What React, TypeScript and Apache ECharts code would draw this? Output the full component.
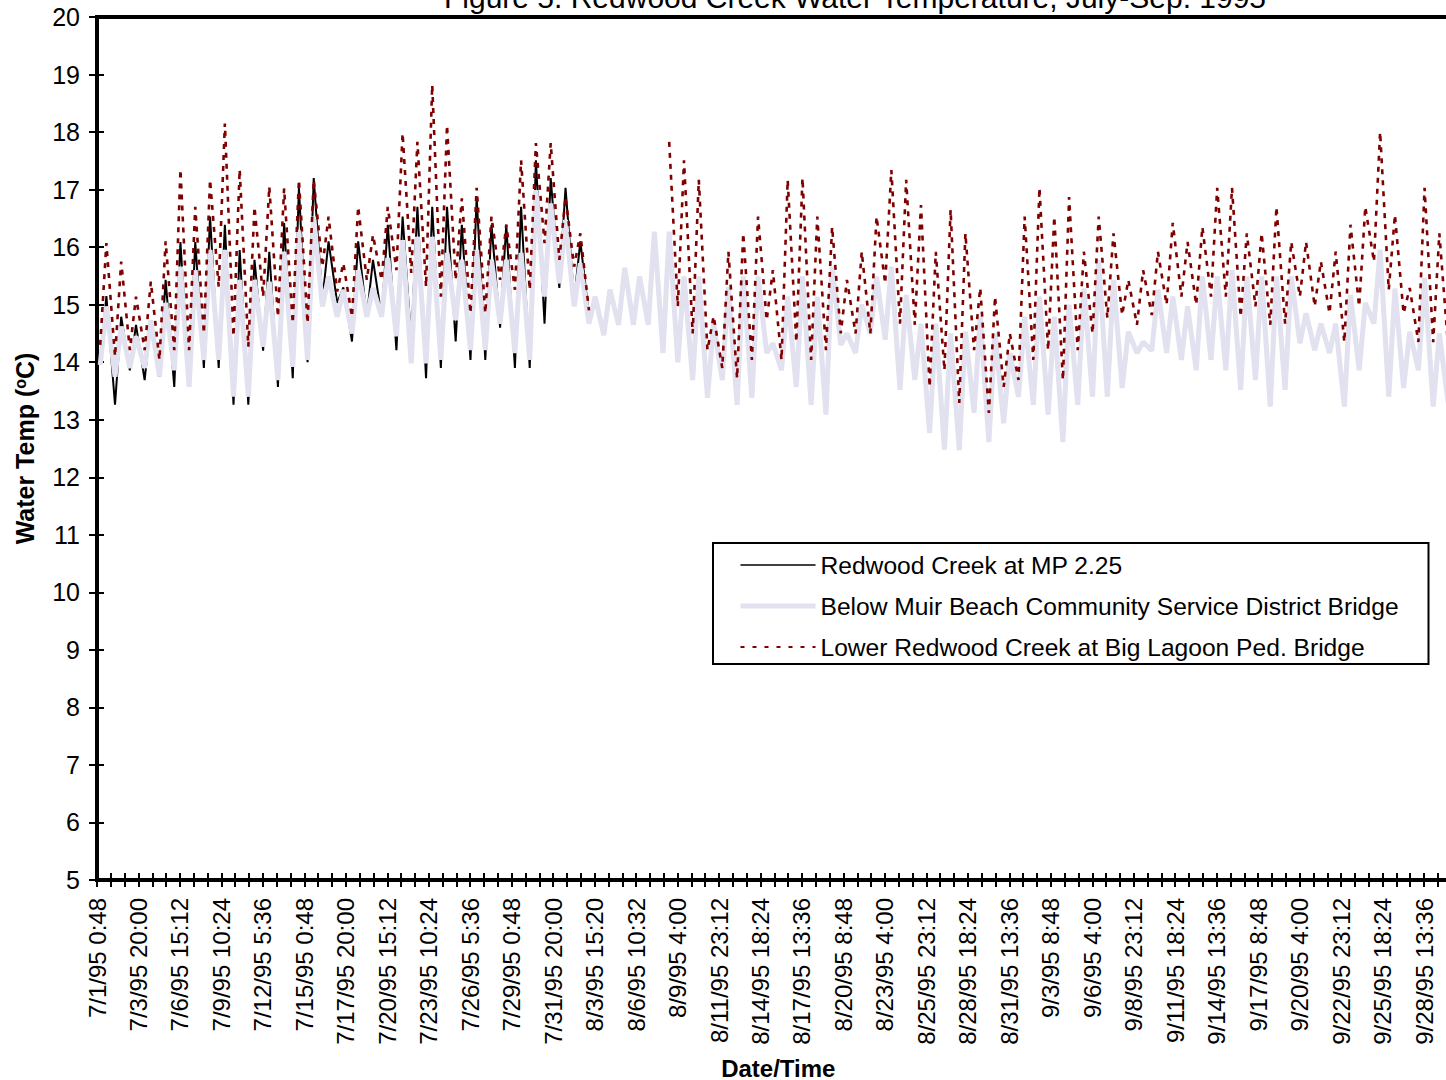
import React, { useEffect, useRef } from 'react';
import * as echarts from 'echarts';

const TITLE = 'Figure 5. Redwood Creek Water Temperature, July-Sep. 1995';
const SERIES_NAMES = [
  'Redwood Creek at MP 2.25',
  'Below Muir Beach Community Service District Bridge',
  'Lower Redwood Creek at Big Lagoon Ped. Bridge',
];

// Category labels, one every 84 readings (readings every 48 minutes)
const tickLabels = [
  '7/1/95 0:48', '7/3/95 20:00', '7/6/95 15:12', '7/9/95 10:24', '7/12/95 5:36',
  '7/15/95 0:48', '7/17/95 20:00', '7/20/95 15:12', '7/23/95 10:24', '7/26/95 5:36',
  '7/29/95 0:48', '7/31/95 20:00', '8/3/95 15:20', '8/6/95 10:32', '8/9/95 4:00',
  '8/11/95 23:12', '8/14/95 18:24', '8/17/95 13:36', '8/20/95 8:48', '8/23/95 4:00',
  '8/25/95 23:12', '8/28/95 18:24', '8/31/95 13:36', '9/3/95 8:48', '9/6/95 4:00',
  '9/8/95 23:12', '9/11/95 18:24', '9/14/95 13:36', '9/17/95 8:48', '9/20/95 4:00',
  '9/22/95 23:12', '9/25/95 18:24', '9/28/95 13:36',
];

// Daily readings (day 0 = 7/1/95): early-morning low and afternoon high, deg C
const mpLows = [14.0, 13.26, 13.86, 13.69, 13.75, 13.57, 13.6, 13.9, 13.9, 13.26,
  13.26, 14.2, 13.57, 13.72, 14.0, 15.08, 15.03, 14.36, 14.79, 14.79,
  14.21, 14.36, 13.72, 13.9, 14.36, 14.04, 14.04, 14.6, 13.9, 13.9,
  14.67, 15.29, 15.08, 14.8];
const mpHighs = [15.15, 14.79, 14.65, 14.73, 15.43, 16.09, 16.09, 16.53, 16.39, 15.95,
  15.78, 15.92, 16.42, 17.03, 17.2, 16.1, 15.3, 16.1, 15.78, 16.39,
  16.53, 16.7, 16.7, 16.7, 16.39, 16.87, 16.39, 16.39, 16.7, 17.51,
  17.2, 17.03, 16.1, null];

const muirLows = [13.95, 13.75, 13.9, 13.9, 13.75, 13.86, 13.57, 14.04, 14.04, 13.4,
  13.4, 14.27, 13.69, 13.92, 14.04, 14.97, 14.79, 14.5, 14.79, 14.79,
  14.45, 13.98, 13.98, 14.04, 14.73, 14.21, 14.21, 14.67, 14.16, 14.04,
  15.14, 15.37, 14.97, 14.67, 14.47, 14.65, 14.65, 14.65, 14.16, 14.0,
  13.69, 13.38, 13.69, 13.26, 13.38, 14.16, 13.86, 13.57, 13.26, 13.09,
  14.3, 14.16, 14.5, 14.39, 13.52, 13.69, 12.77, 12.48, 12.47, 13.12,
  12.61, 12.94, 13.4, 13.26, 13.09, 12.61, 13.26, 13.4, 13.4, 13.55,
  14.16, 14.2, 14.16, 14.04, 13.86, 14.04, 13.86, 13.52, 13.69, 13.23,
  13.52, 14.33, 14.21, 14.16, 13.23, 13.86, 14.67, 13.4, 13.55, 13.86,
  13.23, 13.3];
const muirHighs = [14.97, 14.62, 14.45, 14.73, 15.03, 15.66, 15.6, 15.95, 15.95, 15.43,
  15.43, 15.4, 15.92, 16.3, 16.53, 15.49, 15.26, 15.6, 15.29, 15.81,
  16.12, 16.18, 16.18, 15.9, 15.78, 15.95, 15.78, 15.78, 15.9, 16.99,
  16.76, 16.47, 15.72, 15.14, 15.26, 15.64, 15.49, 16.27, 16.27, 15.49,
  15.49, 14.67, 15.31, 15.49, 15.49, 14.33, 15.14, 15.49, 15.14, 15.66,
  14.5, 15.0, 15.49, 15.66, 15.17, 14.67, 14.67, 14.5, 14.53, 14.79,
  14.5, 14.16, 14.79, 15.14, 14.79, 15.0, 15.28, 15.78, 15.43, 14.53,
  14.35, 15.26, 15.14, 14.97, 15.49, 15.49, 15.6, 15.49, 15.49, 15.49,
  15.49, 14.85, 14.67, 14.67, 15.17, 15.03, 15.95, 15.28, 14.53, 15.46,
  14.5, null];

const lagoonLows = [14.3, 14.1, 14.21, 14.21, 14.04, 14.21, 14.21, 14.5, 15.31, 14.45,
  14.27, 15.14, 14.79, 14.68, 14.68, 15.66, 15.23, 14.79, 15.43, 15.43,
  15.6, 15.55, 15.31, 15.14, 15.43, 14.85, 14.85, 15.43, 15.26, 15.26,
  16.07, 15.78, 15.66, 14.9, null, null, null, null, null, 14.97,
  14.5, 14.21, 13.9, 13.72, 14.04, 14.73, 14.04, 14.35, 14.04, 14.21,
  14.5, 14.5, 14.5, 15.37, 14.67, 14.65, 13.57, 13.86, 13.29, 14.21,
  13.12, 13.57, 13.69, 14.04, 14.21, 13.69, 14.21, 14.5, 14.77, 14.82,
  14.65, 14.82, 15.0, 15.14, 15.0, 15.14, 15.14, 14.79, 14.97, 14.65,
  14.67, 15.14, 14.97, 14.85, 14.35, 14.97, 15.75, 15.26, 14.85, 14.35,
  14.35, 14.3];
const lagoonHighs = [16.07, 15.75, 15.14, 15.4, 16.1, 17.35, 16.7, 17.17, 18.15, 17.35,
  16.7, 17.05, 17.02, 17.17, 17.17, 16.53, 15.72, 16.7, 16.21, 16.7,
  17.98, 17.83, 18.82, 18.12, 16.85, 17.03, 16.53, 16.39, 17.51, 17.81,
  17.81, 16.87, 16.24, null, null, null, null, null, 17.83, 17.51,
  17.17, 14.8, 15.92, 16.24, 16.53, 15.6, 17.17, 17.2, 16.53, 16.35,
  15.43, 15.92, 16.53, 17.34, 17.17, 16.73, 15.92, 16.65, 16.24, 15.29,
  15.14, 14.5, 16.53, 17.03, 16.53, 16.87, 15.92, 16.53, 16.24, 15.43,
  15.6, 15.92, 16.42, 16.09, 16.35, 17.03, 17.03, 16.24, 16.24, 16.7,
  16.09, 16.09, 15.75, 15.92, 16.39, 16.7, 18.0, 16.56, 15.29, 17.03,
  16.24, null];

// Axis in reading-index units (48-minute steps)
const STEPS_PER_DAY = 30;
const LOW_OFFSET = 6.5; // ~06:00
const HIGH_OFFSET = 19; // ~16:00
const X_MAX = 2760;
const TICK_STEP = 28;
const LABEL_STEP = 84;

function toPoints(lows: (number | null)[], highs: (number | null)[]) {
  const pts: any[] = [];
  const n = Math.max(lows.length, highs.length);
  for (let d = 0; d < n; d++) {
    const lo = lows[d];
    const hi = highs[d];
    pts.push([d * STEPS_PER_DAY + LOW_OFFSET, lo == null ? '-' : lo]);
    pts.push([d * STEPS_PER_DAY + HIGH_OFFSET, hi == null ? '-' : hi]);
  }
  return pts;
}

const FONT = '"Liberation Sans", Arial, Helvetica, sans-serif';
const COLORS = ['#000000', '#e1e1ef', '#800000'];

export default function App() {
  const ref = useRef<HTMLDivElement>(null);
  useEffect(() => {
    if (!ref.current) return;
    const chart = echarts.init(ref.current, undefined, { renderer: 'svg' });
    const xBase = {
      type: 'value',
      min: 0,
      max: X_MAX,
      interval: TICK_STEP,
      position: 'bottom',
      splitLine: { show: false },
      axisLine: { show: false },
    };
    const yBase = {
      type: 'value',
      min: 5,
      max: 20,
      interval: 1,
      position: 'left',
      splitLine: { show: false },
      axisLine: { show: false },
    };
    chart.setOption({
      animation: false,
      backgroundColor: '#ffffff',
      textStyle: { fontFamily: FONT },
      graphic: [
        {
          type: 'text',
          x: 855,
          y: -3,
          style: {
            text: TITLE,
            font: '30px ' + FONT,
            fill: '#000',
            align: 'center',
            verticalAlign: 'middle',
          },
        },
      ],
      grid: {
        left: 97,
        right: 20.4,
        top: 17,
        bottom: 200,
        show: true,
        borderColor: '#000',
        borderWidth: 4,
        backgroundColor: 'transparent',
        outerBoundsMode: 'none',
        containLabel: false,
      },
      legend: {
        orient: 'vertical',
        left: 713,
        top: 543,
        padding: [7, 25, 2, 25],
        itemGap: 11,
        itemWidth: 75,
        itemHeight: 14,
        borderColor: '#000',
        borderWidth: 2,
        backgroundColor: '#fff',
        selectedMode: false,
        itemStyle: { color: 'transparent', borderWidth: 0, opacity: 0 },
        textStyle: {
          fontFamily: FONT,
          fontSize: 24.6,
          color: '#000',
          lineHeight: 30,
          width: 583,
        },
        data: [
          { name: SERIES_NAMES[0], lineStyle: { color: COLORS[0], width: 1.6 } },
          { name: SERIES_NAMES[1], lineStyle: { color: COLORS[1], width: 5 } },
          { name: SERIES_NAMES[2], lineStyle: { color: COLORS[2], width: 2, type: [4, 8] } },
        ],
      },
      xAxis: [
        {
          ...xBase,
          name: 'Date/Time',
          nameLocation: 'middle',
          nameGap: 176,
          nameTextStyle: { fontFamily: FONT, fontSize: 24, fontWeight: 'bold', color: '#000' },
          axisTick: { show: true, length: 7, lineStyle: { color: '#000', width: 2 } },
          axisLabel: {
            rotate: 90,
            margin: 18,
            fontSize: 24,
            fontFamily: FONT,
            color: '#000',
            showMinLabel: true,
            showMaxLabel: true,
            formatter: (v: number) => {
              const i = Math.round(v / LABEL_STEP);
              return Math.abs(v - i * LABEL_STEP) < 0.01 && tickLabels[i] ? tickLabels[i] : '';
            },
          },
        },
        {
          ...xBase,
          axisTick: { show: true, inside: true, length: 7, lineStyle: { color: '#000', width: 2 } },
          axisLabel: { show: false },
        },
      ],
      yAxis: [
        {
          ...yBase,
          name: 'Water Temp ({sup|o}C)',
          nameLocation: 'middle',
          nameRotate: 90,
          nameGap: 60,
          nameTextStyle: {
            fontFamily: FONT,
            fontSize: 25,
            fontWeight: 'bold',
            color: '#000',
            rich: {
              sup: {
                fontFamily: FONT,
                fontSize: 16,
                fontWeight: 'bold',
                color: '#000',
                verticalAlign: 'top',
                lineHeight: 25,
              },
            },
          },
          axisTick: { show: true, length: 8, lineStyle: { color: '#000', width: 2 } },
          axisLabel: { margin: 17, fontSize: 25, fontFamily: FONT, color: '#000' },
        },
        {
          ...yBase,
          axisTick: { show: true, inside: true, length: 7, lineStyle: { color: '#000', width: 2 } },
          axisLabel: { show: false },
        },
      ],
      series: [
        {
          name: SERIES_NAMES[0],
          type: 'line',
          xAxisIndex: 0,
          yAxisIndex: 0,
          symbol: 'none',
          data: toPoints(mpLows, mpHighs),
          lineStyle: { color: COLORS[0], width: 2 },
          itemStyle: { color: COLORS[0] },
        },
        {
          name: SERIES_NAMES[1],
          type: 'line',
          xAxisIndex: 0,
          yAxisIndex: 0,
          symbol: 'none',
          data: toPoints(muirLows, muirHighs),
          lineStyle: { color: COLORS[1], width: 5 },
          itemStyle: { color: COLORS[1] },
        },
        {
          name: SERIES_NAMES[2],
          type: 'line',
          xAxisIndex: 0,
          yAxisIndex: 0,
          symbol: 'none',
          data: toPoints(lagoonLows, lagoonHighs),
          lineStyle: { color: COLORS[2], width: 2.6, type: [5, 6] },
          itemStyle: { color: COLORS[2] },
        },
      ],
    });
    return () => chart.dispose();
  }, []);
  return (
    <div
      style={{
        position: 'fixed',
        left: 0,
        top: 0,
        width: 1446,
        height: 1080,
        overflow: 'hidden',
        background: '#fff',
      }}
    >
      <div ref={ref} style={{ width: 1480, height: 1080 }} />
    </div>
  );
}
